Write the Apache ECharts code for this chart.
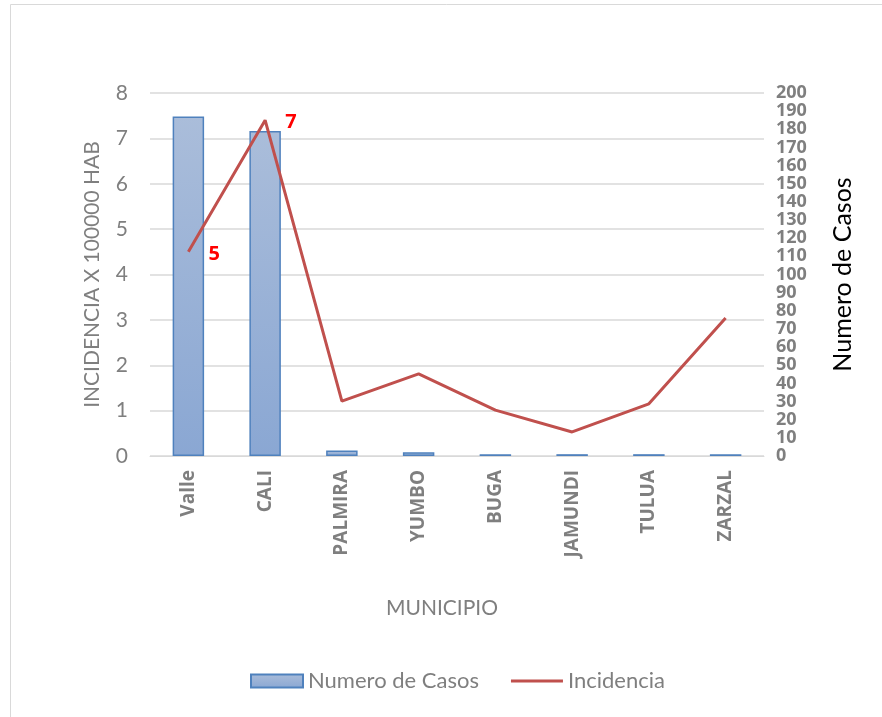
<!DOCTYPE html>
<html><head><meta charset="utf-8">
<script src="https://cdn.jsdelivr.net/npm/echarts@6/dist/echarts.min.js"></script>
<style>html,body{margin:0;padding:0;background:#fff}#c{width:882px;height:717px}</style>
</head><body><div id="c"></div>
<script>
const categories = ['Valle','CALI','PALMIRA','YUMBO','BUGA','JAMUNDI','TULUA','ZARZAL'];
const casos = [187, 179, 3, 2, 1, 1, 1, 1];
const incidencia = [4.5, 7.4, 1.21, 1.81, 1.01, 0.53, 1.15, 3.04];
const labeledPoints = [0, 1];

const chart = echarts.init(document.getElementById('c'));
const font = 'Lato, "Open Sans", sans-serif';
const boldFont = '"Open Sans", "Noto Sans", sans-serif';
chart.setOption({
  animation: false,
  textStyle: {fontFamily: font},
  graphic: [{type:'rect', shape:{x:10.5,y:4.5,width:900,height:720}, style:{fill:'none', stroke:'#d9d9d9', lineWidth:1}, silent:true}],
  grid: {left:150, right:118, top:93, bottom:261, containLabel:false},
  legend: {
    bottom: 20, left: 245, itemGap: 32, itemWidth: 52, itemHeight: 13,
    textStyle: {color:'#7f7f7f', fontSize:22, fontFamily: font},
    data: [
      {name:'Numero de Casos', icon:'rect'},
      {name:'Incidencia', icon:'path://M0,5L50,5L50,8L0,8Z'}
    ]
  },
  xAxis: {
    type:'category', data: categories,
    name:'MUNICIPIO', nameLocation:'middle', nameGap:142,
    nameTextStyle:{color:'#7f7f7f', fontSize:21, fontFamily: font, padding:[0,30,0,0]},
    axisLine:{lineStyle:{color:'#d9d9d9', width:1}},
    axisTick:{show:false},
    axisLabel:{rotate:90, color:'#7f7f7f', fontSize:19, fontWeight:'bold', margin:14, fontFamily: boldFont}
  },
  yAxis: [
    {
      type:'value', min:0, max:8, interval:1, position:'left',
      name:'INCIDENCIA X 100000 HAB', nameLocation:'middle', nameGap:47, nameRotate:90,
      nameTextStyle:{color:'#7f7f7f', fontSize:21, fontFamily: font},
      axisLine:{show:false}, axisTick:{show:false},
      axisLabel:{color:'#7f7f7f', fontSize:21, margin:22, fontFamily: font},
      splitLine:{lineStyle:{color:'#d9d9d9', width:1.5}}
    },
    {
      type:'value', min:0, max:200, interval:10, position:'right',
      name:'Numero de Casos', nameLocation:'middle', nameGap:66, nameRotate:90,
      nameTextStyle:{color:'#000', fontSize:25, fontFamily: font},
      axisLine:{show:false}, axisTick:{show:false},
      axisLabel:{color:'#7f7f7f', fontSize:18, fontWeight:'bold', margin:12, lineHeight:17,
        fontFamily: boldFont, hideOverlap:false, showMinLabel:true, showMaxLabel:true},
      splitLine:{show:false}
    }
  ],
  series: [
    {
      name:'Numero de Casos', type:'bar', yAxisIndex:1, data: casos, barWidth:'41%',
      itemStyle:{
        color: new echarts.graphic.LinearGradient(0,0,0,1,[{offset:0,color:'#aabdda'},{offset:1,color:'#8aa7d3'}]),
        borderColor:'#4f81bd', borderWidth:1.5
      }
    },
    {
      name:'Incidencia', type:'line', yAxisIndex:0,
      data: incidencia.map((v,i)=> labeledPoints.includes(i) ? {value:v, label:{show:true}} : v),
      symbol:'circle', symbolSize:0.1, showSymbol:true,
      lineStyle:{color:'#c0504d', width:3}, itemStyle:{color:'#c0504d'},
      label:{show:false, position:'right', distance:20, offset:[0,2], color:'#ff0000', fontWeight:'bold', fontSize:20,
        formatter: p => Math.round(p.value), fontFamily: boldFont}
    }
  ]
});
</script></body></html>
